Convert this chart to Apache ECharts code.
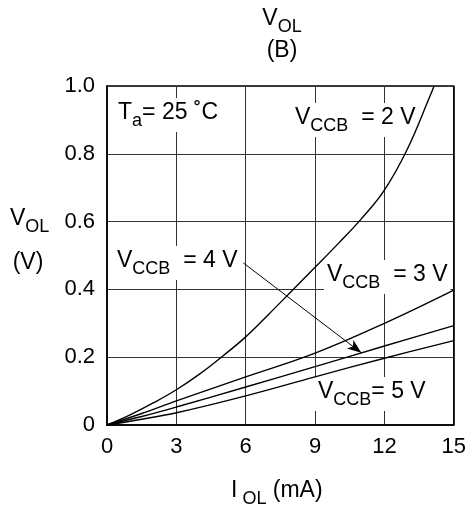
<!DOCTYPE html>
<html>
<head>
<meta charset="utf-8">
<script src="https://cdn.jsdelivr.net/npm/echarts/dist/echarts.min.js"></script>
<style>html,body{margin:0;padding:0;background:#fff;}#c{width:469px;height:507px;}</style>
</head>
<body>
<div id="c"></div>
<script>
// ---- data ----
const xTicks = [0, 3, 6, 9, 12, 15];
const yTicks = [0, 0.2, 0.4, 0.6, 0.8, 1.0];

const iol2 = [0, 1, 2, 3, 4, 5, 6, 7, 8, 9, 10, 11, 12, 13, 14, 14.15];
const vol2 = [0, 0.03, 0.065, 0.104, 0.15, 0.203, 0.26, 0.327, 0.396, 0.465, 0.535, 0.608, 0.693, 0.815, 0.975, 1.0];

const iolN = [0, 1.5, 3, 6, 9, 12, 15];
const vol3 = [0, 0.034, 0.071, 0.142, 0.212, 0.30, 0.398];
const vol4 = [0, 0.025, 0.053, 0.112, 0.172, 0.233, 0.293];
const vol5 = [0, 0.017, 0.036, 0.086, 0.142, 0.197, 0.249];

const arrowFrom = [5.9, 0.478];
const arrowTo = [11.0, 0.213];

const FONT = '"Liberation Sans", Arial, sans-serif';

function pairs(xs, ys) { return xs.map((x, i) => [x, ys[i]]); }

const rich = {
  m: { fontSize: 23, lineHeight: 28, verticalAlign: 'top', fontFamily: FONT, color: '#000' },
  s: { fontSize: 18, lineHeight: 18, padding: [11, 0, 0, 0], verticalAlign: 'top', fontFamily: FONT, color: '#000' }
};

function label(text, x, y, opts) {
  opts = opts || {};
  const st = {
    text: text, rich: rich, fontFamily: FONT, fontSize: 23, fill: '#000',
    align: opts.align || 'left', textAlign: opts.align || 'left',
    verticalAlign: 'top', textVerticalAlign: 'top'
  };
  if (opts.bg) { st.backgroundColor = '#fff'; st.padding = [3, 3, 3, 3]; }
  return { type: 'text', x: opts.bg ? x - 3 : x, y: opts.bg ? y - 3 : y, z: 1, silent: true, style: st };
}

function lineSeries(name, data) {
  return {
    name: name, type: 'line', data: data, showSymbol: false, symbol: 'none',
    smooth: 0.4,
    lineStyle: { color: '#000', width: 1.4 }, z: 3
  };
}

const chart = echarts.init(document.getElementById('c'), null, { renderer: 'canvas' });
const s4 = lineSeries('4V', pairs(iolN, vol4));
s4.markLine = {
  silent: true, animation: false,
  symbol: ['none', 'arrow'], symbolSize: [8, 14],
  lineStyle: { color: '#000', width: 1, type: 'solid' },
  label: { show: false },
  emphasis: { disabled: true },
  data: [[{ coord: arrowFrom }, { coord: arrowTo }]]
};

chart.setOption({
  animation: false,
  backgroundColor: '#fff',
  grid: { left: 107, right: 15, top: 86, bottom: 82, show: true, borderColor: '#000', borderWidth: 1.5, backgroundColor: 'transparent' },
  xAxis: {
    type: 'value', min: 0, max: 15, interval: 3,
    axisLine: { show: true, lineStyle: { color: '#000', width: 1.5 } },
    axisTick: { show: false },
    splitLine: { show: true, lineStyle: { color: '#333', width: 1 } },
    axisLabel: { color: '#000', fontSize: 22, fontFamily: FONT, margin: 11,
      formatter: v => xTicks.indexOf(v) >= 0 ? String(v) : '' }
  },
  yAxis: {
    type: 'value', min: 0, max: 1.0, interval: 0.2,
    axisLine: { show: true, lineStyle: { color: '#000', width: 1.5 } },
    axisTick: { show: false },
    splitLine: { show: true, lineStyle: { color: '#333', width: 1 } },
    axisLabel: { color: '#000', fontSize: 22, fontFamily: FONT, margin: 12,
      formatter: v => { const t = yTicks.find(k => Math.abs(k - v) < 1e-9); return t === undefined ? '' : (t === 0 ? '0' : t.toFixed(1)); } }
  },
  series: [
    lineSeries('2V', pairs(iol2, vol2)),
    lineSeries('3V', pairs(iolN, vol3)),
    s4,
    lineSeries('5V', pairs(iolN, vol5))
  ],
  graphic: [
    label('{m|V}{s|OL}', 282, 7, { align: 'center' }),
    label('{m|(B)}', 282, 39, { align: 'center' }),
    label('{m|V}{s|OL}', 10, 207),
    label('{m|(V)}', 28, 251, { align: 'center' }),
    label('{m|I}{s| OL}{m| (mA)}', 231, 479),
    label('{m|T}{s|a}{m|= 25 ˚C}', 118, 101, { bg: true }),
    label('{m|V}{s|CCB}{m|  = 2 V}', 295, 106, { bg: true }),
    label('{m|V}{s|CCB}{m|  = 4 V}', 117, 249, { bg: true }),
    label('{m|V}{s|CCB}{m|  = 3 V}', 327, 263, { bg: true }),
    label('{m|V}{s|CCB}{m|= 5 V}', 318, 380, { bg: true })
  ]
});
</script>
</body>
</html>
